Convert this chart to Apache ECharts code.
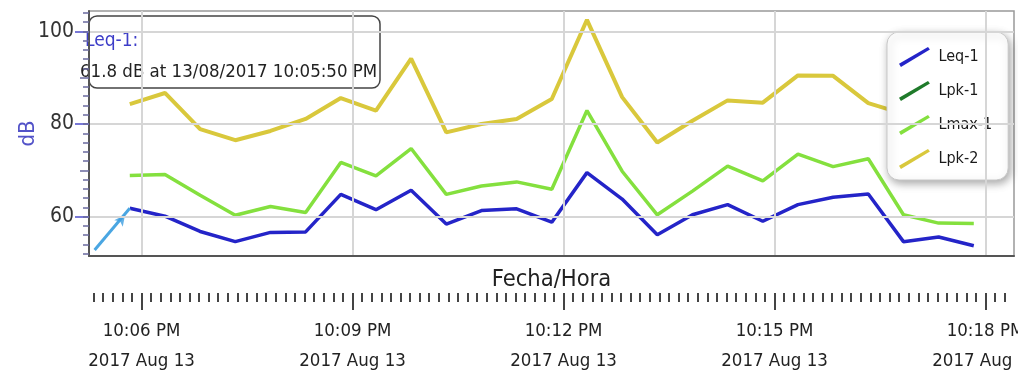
<!DOCTYPE html>
<html>
<head>
<meta charset="utf-8">
<script src="https://cdn.jsdelivr.net/npm/echarts@6/dist/echarts.min.js"></script>
<style>
html,body{margin:0;padding:0;background:#fff;}
#chart{width:1018px;height:372px;}
</style>
</head>
<body>
<div id="chart"></div>
<script>
// ---- data ----
const times = ['22:05:50','22:06:20','22:06:50','22:07:20','22:07:50','22:08:20','22:08:50','22:09:20','22:09:50','22:10:20','22:10:50','22:11:20','22:11:50','22:12:20','22:12:50','22:13:20','22:13:50','22:14:20','22:14:50','22:15:20','22:15:50','22:16:20','22:16:50','22:17:20','22:17:50'];
const leq1  = [61.8, 60.1, 56.8, 54.6, 56.6, 56.7, 64.8, 61.5, 65.7, 58.4, 61.3, 61.7, 58.8, 69.5, 63.8, 56.1, 60.4, 62.6, 59.0, 62.6, 64.2, 64.9, 54.6, 55.6, 53.7];
const lmax1 = [68.9, 69.1, 64.6, 60.3, 62.2, 60.9, 71.7, 68.8, 74.7, 64.8, 66.6, 67.5, 65.9, 82.9, 69.8, 60.4, 65.5, 70.9, 67.7, 73.5, 70.8, 72.5, 60.4, 58.6, 58.5];
const lpk2  = [84.3, 86.7, 78.9, 76.5, 78.5, 81.1, 85.6, 82.9, 94.1, 78.2, 80.0, 81.1, 85.4, 102.5, 85.8, 76.0, 80.7, 85.1, 84.6, 90.5, 90.4, 84.5, 82.2];
const lpk1  = [];
const hiTimes = ['22:05:20','22:05:50'];
const hiLeq   = [52.8, 61.8];
const tickTimes = ['22:06:00','22:09:00','22:12:00','22:15:00','22:18:00'];
const tickLabels = ['10:06 PM','10:09 PM','10:12 PM','10:15 PM','10:18 PM'];
const tickDate = '2017 Aug 13';
const yLabels = [60, 80, 100];
const yMid = [70, 90];

// ---- helpers ----
const toSec = s => { const p = s.split(':').map(Number); return (p[0]-22)*3600 + p[1]*60 + p[2]; };
const pairs = (ts, vs) => vs.map((v, i) => [toSec(ts[i]), v]);
const X_MIN = 315.2, X_MAX = 1104.3, Y_MIN = 51.5, Y_MAX = 104.4;
const majors = tickTimes.map(toSec);
const minorStep = 180 / 22;
const minors = [];
for (let k = -6; k < 200; k++) { const v = majors[0] + k * minorStep; if (v >= X_MIN && v <= X_MAX) minors.push(+v.toFixed(3)); }
const yMinor = [];
for (let v = 52; v <= 104; v += 2) yMinor.push(v);

const FONT = "'Liberation Sans Narrow','DejaVu Sans Condensed','Noto Sans',sans-serif";
const C_LEQ = '#2424c8', C_LPK1 = '#1f7a2a', C_LMAX = '#84e03e', C_LPK2 = '#d9c83c';
const legendIcon = 'path://M0,17.3 L30,0 L32,2.7 L2,20.7 Z';

const chart = echarts.init(document.getElementById('chart'), null, {renderer: 'canvas'});
const baseY = {type: 'value', min: Y_MIN, max: Y_MAX, position: 'left', z: 10, splitLine: {show: false}, axisLine: {show: false}, axisLabel: {show: false}};
const baseX = {type: 'value', min: X_MIN, max: X_MAX, position: 'bottom', z: 10, splitLine: {show: false}, axisLine: {show: false}, axisLabel: {show: false}};

chart.setOption({
  animation: false,
  backgroundColor: '#fff',
  textStyle: {fontFamily: FONT},
  grid: {left: 89, top: 11, right: 4, bottom: 116, containLabel: false, outerBoundsMode: 'none',
         show: true, borderColor: '#999', borderWidth: 1.5, backgroundColor: '#fff'},
  legend: {
    orient: 'vertical', left: 887, top: 32,
    data: ['Leq-1', 'Lpk-1', 'Lmax-1', 'Lpk-2'],
    icon: legendIcon, itemWidth: 32, itemHeight: 20, itemGap: 14,
    padding: [15, 16, 11, 12],
    backgroundColor: '#fff', borderColor: '#c8c8c8', borderWidth: 1, borderRadius: 12,
    shadowBlur: 8, shadowColor: 'rgba(0,0,0,0.35)', shadowOffsetX: 2, shadowOffsetY: 3,
    textStyle: {fontFamily: FONT, fontSize: 16, color: '#1a1a1a', padding: [0, 0, 0, 3]},
    selectedMode: false
  },
  xAxis: [
    Object.assign({}, baseX, {
      axisLine: {show: true, lineStyle: {color: '#555', width: 2}},
      axisTick: {show: false, customValues: majors},
      splitLine: {show: true, lineStyle: {color: '#d6d6d6', width: 2}},
      name: 'Fecha/Hora', nameLocation: 'middle', nameGap: 12,
      nameTextStyle: {fontFamily: FONT, fontSize: 23.5, color: '#222', verticalAlign: 'top'}
    }),
    Object.assign({}, baseX, {
      offset: 37,
      axisTick: {show: true, customValues: minors, length: 9, lineStyle: {color: '#444', width: 2}}
    }),
    Object.assign({}, baseX, {
      offset: 37,
      axisTick: {show: true, customValues: majors, length: 17, lineStyle: {color: '#444', width: 2}},
      axisLabel: {
        show: true, customValues: majors, margin: 23, lineHeight: 30,
        fontFamily: FONT, fontSize: 18.5, color: '#222',
        formatter: v => { const i = majors.indexOf(v); return (i >= 0 ? tickLabels[i] : '') + '\n' + tickDate; }
      }
    })
  ],
  yAxis: [
    Object.assign({}, baseY, {
      axisLine: {show: true, lineStyle: {color: '#555', width: 2}},
      axisTick: {show: true, customValues: yLabels, length: 14, lineStyle: {color: '#7878d6', width: 2}},
      axisLabel: {show: true, customValues: yLabels, margin: 15, fontFamily: FONT, fontSize: 21, color: '#333'},
      splitLine: {show: true, lineStyle: {color: '#d6d6d6', width: 2}},
      name: 'dB', nameLocation: 'middle', nameGap: 50, nameRotate: 90, nameMoveOverlap: false,
      nameTextStyle: {fontFamily: FONT, fontSize: 22, color: '#5252c8'}
    }),
    Object.assign({}, baseY, {
      axisTick: {show: true, customValues: yMinor, length: 6, lineStyle: {color: '#6a6a9e', width: 1.5}}
    }),
    Object.assign({}, baseY, {
      axisTick: {show: true, customValues: yMid, length: 9, lineStyle: {color: '#6a6a9e', width: 1.5}}
    })
  ],
  series: [
    {name: 'Lpk-2', type: 'line', data: pairs(times, lpk2), showSymbol: false, symbol: 'none', color: C_LPK2, lineStyle: {color: C_LPK2, width: 4}, itemStyle: {color: C_LPK2}},
    {name: 'Lmax-1', type: 'line', data: pairs(times, lmax1), showSymbol: false, symbol: 'none', color: C_LMAX, lineStyle: {color: C_LMAX, width: 3.5}, itemStyle: {color: C_LMAX}},
    {name: 'Lpk-1', type: 'line', data: lpk1, showSymbol: false, symbol: 'none', color: C_LPK1, lineStyle: {color: C_LPK1, width: 3.5}, itemStyle: {color: C_LPK1}},
    {name: 'Leq-1', type: 'line', data: pairs(times, leq1), showSymbol: false, symbol: 'none', color: C_LEQ, lineStyle: {color: C_LEQ, width: 3.5}, itemStyle: {color: C_LEQ}},
    {name: 'Leq-1 (sel)', type: 'line', data: [
        {value: [toSec(hiTimes[0]), hiLeq[0]], symbol: 'none'},
        {value: [toSec(hiTimes[1]), hiLeq[1]], symbol: 'none'}
      ], showSymbol: false, symbol: 'none', color: '#4aa6e2', lineStyle: {color: '#4aa6e2', width: 3}, z: 3},
    {name: 'Leq-1 (mark)', type: 'scatter', data: [[toSec(hiTimes[1]) - 4, hiLeq[1] - 1.4]], symbol: 'arrow', symbolSize: [8, 11], symbolRotate: -37, itemStyle: {color: '#3d9ee0'}, z: 4}
  ],
  graphic: [
    {type: 'rect', z: 5, shape: {x: 89, y: 16, width: 291, height: 72, r: 8}, style: {fill: 'rgba(255,255,255,0.93)', stroke: '#444', lineWidth: 1.5}},
    {type: 'text', z: 6, x: 85, y: 41, style: {text: 'Leq-1:', fill: '#3d3dc8', font: "19px " + FONT, verticalAlign: 'middle'}},
    {type: 'text', z: 6, x: 80, y: 72, style: {text: leq1[0] + ' dB at 13/08/2017 10:05:50 PM', fill: '#222', font: "18.5px " + FONT, verticalAlign: 'middle'}}
  ]
});
</script>
</body>
</html>
